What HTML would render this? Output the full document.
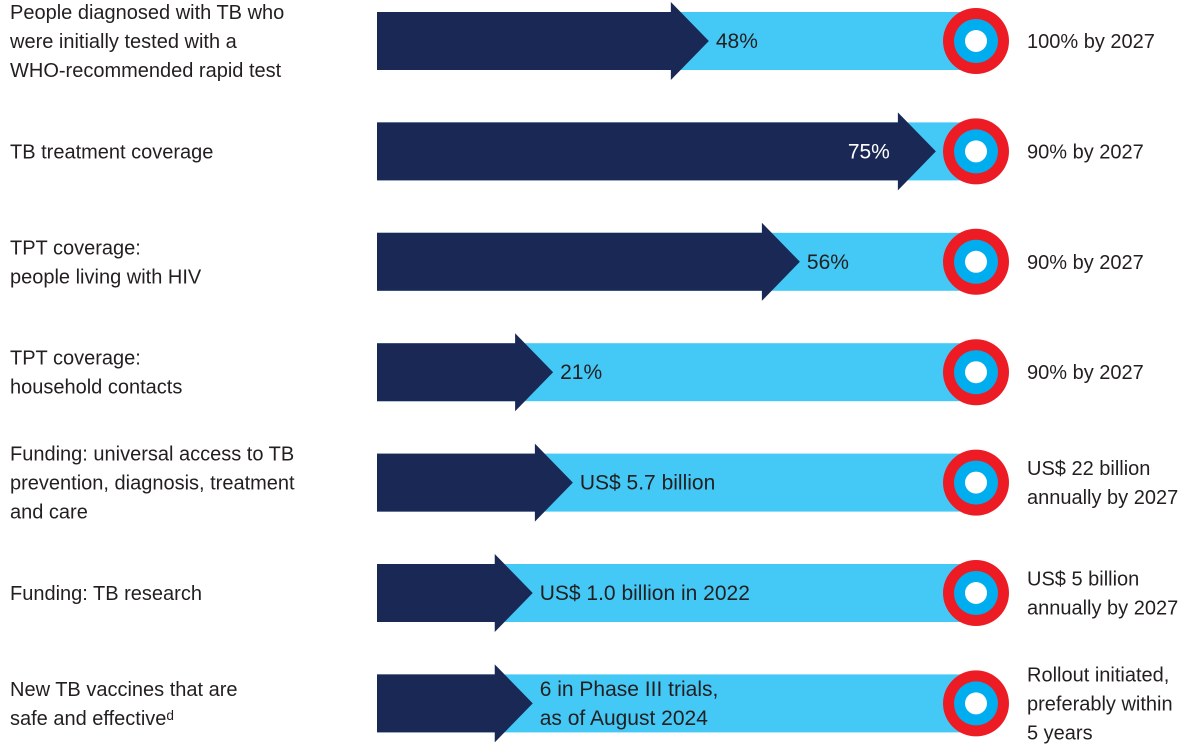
<!DOCTYPE html>
<html><head><meta charset="utf-8">
<style>
html,body{margin:0;padding:0;background:#fff;}
svg{display:block;font-family:"Liberation Sans",sans-serif;}
</style></head>
<body>
<svg id="chart" width="1204" height="750" viewBox="0 0 1204 750" xmlns="http://www.w3.org/2000/svg"></svg>
<script>
const categories = [
  ["People diagnosed with TB who","were initially tested with a","WHO-recommended rapid test"],
  ["TB treatment coverage"],
  ["TPT coverage:","people living with HIV"],
  ["TPT coverage:","household contacts"],
  ["Funding: universal access to TB","prevention, diagnosis, treatment","and care"],
  ["Funding: TB research"],
  ["New TB vaccines that are","safe and effective\u1D48"]
];
const progress = [0.554, 0.933, 0.706, 0.294, 0.327, 0.260, 0.260];
const valueLabels = [["48%"],["75%"],["56%"],["21%"],["US$ 5.7 billion"],["US$ 1.0 billion in 2022"],["6 in Phase III trials,","as of August 2024"]];
const targets = [["100% by 2027"],["90% by 2027"],["90% by 2027"],["90% by 2027"],["US$ 22 billion","annually by 2027"],["US$ 5 billion","annually by 2027"],["Rollout initiated,","preferably within","5 years"]];

const svg = document.getElementById('chart');
const NS = 'http://www.w3.org/2000/svg';
const x0 = 377, x1 = 976, y0 = 41, rowStep = 110.4;
const xScale = f => x0 + f * (x1 - x0);
const yScale = i => y0 + i * rowStep;
function mk(tag, attrs){ const e = document.createElementNS(NS, tag); for (const k in attrs) e.setAttribute(k, attrs[k]); svg.appendChild(e); return e; }
function text(lines, x, cy, opts){
  const lh = opts.lh || 29;
  const t = mk('text', {x:x, 'font-size':opts.size||20, fill:opts.fill||'#231f20', 'text-anchor':opts.anchor||'start'});
  const start = cy - (lines.length-1)*lh/2 + 7;
  lines.forEach((l,j)=>{ const ts=document.createElementNS(NS,'tspan'); ts.setAttribute('x',x); ts.setAttribute('y',start+j*lh); ts.textContent=l; t.appendChild(ts); });
  return t;
}
categories.forEach((cat,i)=>{
  const cy = yScale(i);
  const tip = xScale(progress[i]);
  const lab = text(cat, 10, cy, {});
  
  
  const bg = mk('rect', {x:x0, y:cy-29, width:x1-x0, height:58, fill:'#44c8f5'});
  
  
  const hb = tip - 38;
  const arrow = mk('polygon', {points:`${x0},${cy-29} ${hb},${cy-29} ${hb},${cy-39} ${tip},${cy} ${hb},${cy+39} ${hb},${cy+29} ${x0},${cy+29}`, fill:'#1a2855'});
  
  
  const c1 = mk('circle', {cx:x1, cy:cy, r:33, fill:'#ed1c24'});
  
  
  mk('circle', {cx:x1, cy:cy, r:22, fill:'#00aeef'});
  mk('circle', {cx:x1, cy:cy, r:11, fill:'#ffffff'});
  let v;
  if (i === 1) v = text(valueLabels[i], hb - 8, cy, {anchor:'end', fill:'#ffffff', size:21});
  else v = text(valueLabels[i], tip + 7, cy, {size:21});
  
  
  const tg = text(targets[i], 1027, cy, {});
  
  
});
</script>
</body></html>
